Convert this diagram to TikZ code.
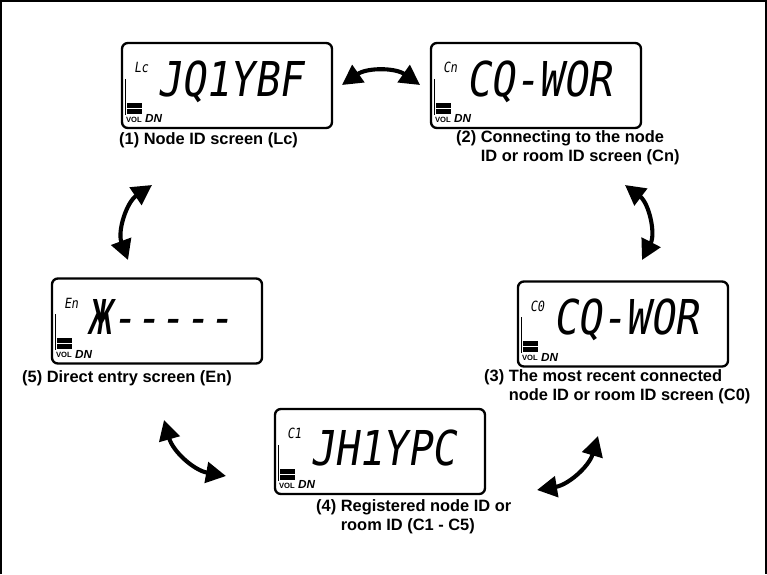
\documentclass[tikz,border=0pt]{standalone}
\usepackage{fontspec}
\setmainfont{Liberation Sans}
\newfontfamily\lcdfont[FakeSlant=0.15,FakeStretch=0.84]{DejaVu Sans Mono}
\usetikzlibrary{arrows.meta}

\begin{document}
\begin{tikzpicture}[x=0.03cm, y=-0.03cm,
    screen/.style={rectangle, draw, line width=2pt, rounded corners=5pt,
                   minimum width=6.3cm, minimum height=2.55cm, inner sep=0pt},
    caption/.style={anchor=west, align=left, inner sep=0pt,
                    font=\fontsize{14}{16}\selectfont\bfseries},
    tag/.style={anchor=west, inner sep=0pt, font=\lcdfont\fontsize{12}{12}\selectfont},
    digits/.style={anchor=west, inner sep=0pt, font=\lcdfont\fontsize{41}{41}\selectfont},
    cyclearrow/.style={{Triangle[length=0.6cm,width=0.62cm]}-{Triangle[length=0.6cm,width=0.62cm]},
                       line width=3.5pt}]
  \useasboundingbox (0,0) rectangle (767,574);
  \draw[line width=1.2pt] (1,574) -- (1,1) -- (766,1) -- (766,574);

  % the five screens
  \node[screen] (s1) at (227,85.5) {};
  \node[screen] (s2) at (536,85.5) {};
  \node[screen] (s3) at (623,324) {};
  \node[screen] (s4) at (380,451.5) {};
  \node[screen] (s5) at (157,321) {};

  \foreach \s/\tag/\txt in {s1/Lc/JQ1YBF, s2/Cn/CQ-WOR, s3/C0/CQ-WOR,
                           s4/C1/JH1YPC, s5/En/Ж-----} {
    \node[tag] at ([shift={(13,26)}]\s.north west) {\tag};
    \node[digits] at ([shift={(36,40)}]\s.north west) {\txt};
    \draw[line width=1pt] ([shift={(5,37)}]\s.north west) -- ++(0,36);
    \fill ([shift={(6,61)}]\s.north west) rectangle ++(15,5);
    \fill ([shift={(6,67)}]\s.north west) rectangle ++(15,5);
    \node[anchor=west, inner sep=0pt, font=\fontsize{6.5}{6.5}\selectfont\bfseries]
      at ([shift={(5,78)}]\s.north west) {VOL};
    \node[anchor=west, inner sep=0pt, font=\fontsize{10}{10}\selectfont\bfseries\itshape]
      at ([shift={(24,77)}]\s.north west) {DN};
  }

  % captions
  \node[caption] (c1) at (119,140) {(1) Node ID screen (Lc)};
  \node[caption] (c2) at (456,148) {(2) Connecting to the node\\\phantom{(2)} ID or room ID screen (Cn)};
  \node[caption] (c3) at (484,387) {(3) The most recent connected\\\phantom{(3)} node ID or room ID screen (C0)};
  \node[caption] (c4) at (316,517) {(4) Registered node ID or\\\phantom{(4)} room ID (C1 - C5)};
  \node[caption] (c5) at (22,378) {(5) Direct entry screen (En)};

  % arrow ends
  \coordinate (a1a) at (342,85);
  \coordinate (a1b) at (420,85);
  \coordinate (a2a) at (625,185);
  \coordinate (a2b) at (642,260);
  \coordinate (a3a) at (598,436);
  \coordinate (a3b) at (537,490);
  \coordinate (a4a) at (226,476);
  \coordinate (a4b) at (164,420);
  \coordinate (a5a) at (128,260);
  \coordinate (a5b) at (152,185);

  \draw[cyclearrow] (a1a) to[bend left=35] (a1b);
  \draw[cyclearrow] (a2a) to[bend left=40] (a2b);
  \draw[cyclearrow] (a3a) to[bend left=32] (a3b);
  \draw[cyclearrow] (a4a) to[bend left=32] (a4b);
  \draw[cyclearrow] (a5a) to[bend left=38] (a5b);
\end{tikzpicture}
\end{document}
